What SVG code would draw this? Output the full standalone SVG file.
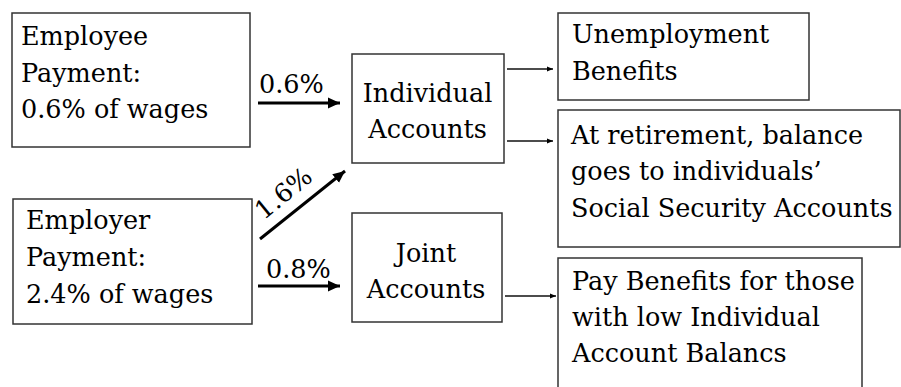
<svg xmlns="http://www.w3.org/2000/svg" width="901" height="387" viewBox="0 0 901 387">
<style>
.box{fill:#fff;stroke:#333;stroke-width:1.5}
.t{font-family:'DejaVu Serif',serif;font-size:25.5px;fill:#000}
.c{text-anchor:middle}
.thick{stroke:#000;stroke-width:3;fill:none}
.thin{stroke:#111;stroke-width:1.6;fill:none}
</style>
<defs>
<marker id="ah" markerUnits="userSpaceOnUse" markerWidth="12" markerHeight="12" refX="10" refY="5" orient="auto" viewBox="0 0 10 10">
<path d="M0,0.5 L10,5 L0,9.5 Z" fill="#000"/>
</marker>
<marker id="as" markerUnits="userSpaceOnUse" markerWidth="6" markerHeight="6" refX="6" refY="3" orient="auto" viewBox="0 0 6 6">
<path d="M0,0.5 L6,3 L0,5.5 Z" fill="#000"/>
</marker>
</defs>
<rect width="901" height="387" fill="#fff"/>

<g id="employee">
<rect class="box" x="12" y="13" width="238" height="134"/>
<text class="t"><tspan x="21" y="45">Employee</tspan><tspan x="21" y="81.5">Payment:</tspan><tspan x="21" y="118">0.6% of wages</tspan></text>
</g>

<g id="employer">
<rect class="box" x="13" y="199" width="239" height="125"/>
<text class="t"><tspan x="26" y="229">Employer</tspan><tspan x="26" y="266">Payment:</tspan><tspan x="26" y="303">2.4% of wages</tspan></text>
</g>

<g id="individual">
<rect class="box" x="352" y="54" width="152" height="109"/>
<text class="t c"><tspan x="427.5" y="101.5">Individual</tspan><tspan x="427.5" y="138">Accounts</tspan></text>
</g>

<g id="joint">
<rect class="box" x="352" y="213" width="150" height="109"/>
<text class="t c"><tspan x="426" y="261.5">Joint</tspan><tspan x="426" y="298">Accounts</tspan></text>
</g>

<g id="unemployment">
<rect class="box" x="558" y="13" width="251" height="87"/>
<text class="t"><tspan x="572" y="43">Unemployment</tspan><tspan x="572" y="80">Benefits</tspan></text>
</g>

<g id="retirement">
<rect class="box" x="558" y="110" width="342" height="137"/>
<text class="t"><tspan x="571" y="143.5">At retirement, balance</tspan><tspan x="571" y="180">goes to individuals’</tspan><tspan x="571" y="216.5">Social Security Accounts</tspan></text>
</g>

<g id="paybenefits">
<rect class="box" x="558" y="258" width="304" height="140"/>
<text class="t"><tspan x="572" y="290">Pay Benefits for those</tspan><tspan x="572" y="325.5">with low Individual</tspan><tspan x="572" y="361.5">Account Balancs</tspan></text>
</g>

<g id="connectors">
<line class="thick" x1="258" y1="103" x2="340" y2="103" marker-end="url(#ah)"/>
<text class="t" x="259" y="93">0.6%</text>
<line class="thick" x1="260" y1="239" x2="345" y2="171" marker-end="url(#ah)"/>
<text class="t c" transform="translate(289 200) rotate(-39)">1.6%</text>
<line class="thick" x1="258" y1="286" x2="340" y2="286" marker-end="url(#ah)"/>
<text class="t" x="266" y="278">0.8%</text>
<line class="thin" x1="507" y1="69" x2="553" y2="69" marker-end="url(#as)"/>
<line class="thin" x1="507" y1="141" x2="553" y2="141" marker-end="url(#as)"/>
<line class="thin" x1="505" y1="296" x2="556" y2="296" marker-end="url(#as)"/>
</g>
</svg>
